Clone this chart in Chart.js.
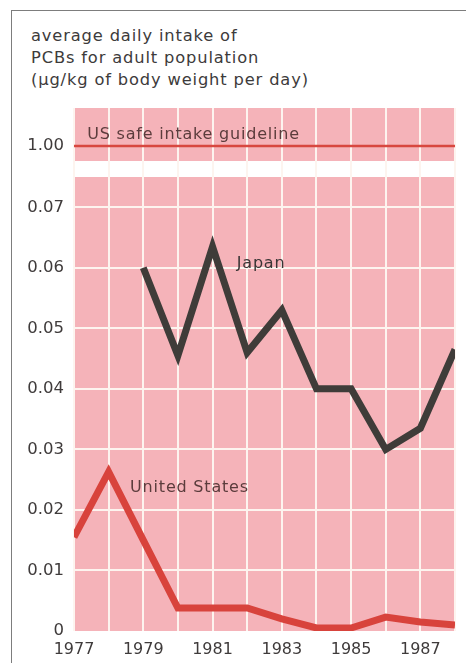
<!DOCTYPE html>
<html>
<head>
<meta charset="utf-8">
<script src="https://cdn.jsdelivr.net/npm/chart.js@4.4.1/dist/chart.umd.min.js"></script>
<style>
  html, body { margin: 0; padding: 0; background: #fff; overflow: hidden; }
  #page { position: relative; width: 466px; height: 663px; overflow: hidden; }
  #frame { position: absolute; left: 11px; top: 10px; width: 520px; height: 720px; border-left: 1.5px solid #7d7d7d; border-top: 1.5px solid #7d7d7d; }
  #title { position: absolute; left: 31px; top: 25px; font: 16.3px "DejaVu Sans"; letter-spacing: 0.85px; line-height: 22px; color: #3d3b3b; }
  #wrap { position: absolute; left: 0; top: 0; width: 466px; height: 663px; }
</style>
</head>
<body>
<div id="page">
<div id="frame"></div>
<div id="title">average daily intake of<br>PCBs for adult population<br>(µg/kg of body weight per day)</div>
<div id="wrap"><canvas id="pcbChart"></canvas></div>
</div>
<script>
const years = [1977, 1978, 1979, 1980, 1981, 1982, 1983, 1984, 1985, 1986, 1987, 1988];
const japan = [null, null, 0.060, 0.0455, 0.0635, 0.046, 0.053, 0.040, 0.040, 0.030, 0.0335, 0.0465];
const unitedStates = [0.0155, 0.0263, 0.015, 0.0038, 0.0038, 0.0038, 0.002, 0.0005, 0.0005, 0.0023, 0.0015, 0.001];
const guidelineValue = 1.00;
const mainTicks = [0, 0.01, 0.02, 0.03, 0.04, 0.05, 0.06, 0.07];
const topTicks = [1.00];
const yearLabels = [1977, 1979, 1981, 1983, 1985, 1987];

const PINK = '#f5b3b9';
const GRID = '#fdf4ef';
const TEXT = '#3f3b3b';

function points(values) {
    return years.map((yr, i) => ({ x: yr, y: values[i] })).filter(p => p.y !== null);
}

// pink panels behind the grid
const panels = {
    id: 'panels',
    beforeDraw(chart) {
        const { ctx, chartArea, scales } = chart;
        ctx.save();
        ctx.fillStyle = PINK;
        ctx.fillRect(chartArea.left, scales.y.top, chartArea.right - chartArea.left, scales.y.bottom - scales.y.top);
        const bandBottom = scales.yTop.getPixelForValue(0.985);
        ctx.fillRect(chartArea.left, scales.yTop.top, chartArea.right - chartArea.left, bandBottom - scales.yTop.top);
        ctx.restore();
    }
};

// series names written next to the lines
const seriesNames = {
    id: 'seriesNames',
    afterDatasetsDraw(chart) {
        const { ctx, scales } = chart;
        const notes = [
            { text: 'Japan', x: 1981.7, y: 0.0606, axis: 'y', color: '#3a3535' },
            { text: 'United States', x: 1978.62, y: 0.0237, axis: 'y', color: '#5b3c3c' },
            { text: 'US safe intake guideline', x: 1977.38, y: 1.011, axis: 'yTop', color: '#5b3c3c' }
        ];
        ctx.save();
        ctx.font = '16px "DejaVu Sans"';
        ctx.letterSpacing = '0.8px';
        ctx.textAlign = 'left';
        ctx.textBaseline = 'middle';
        notes.forEach(n => {
            ctx.fillStyle = n.color;
            ctx.fillText(n.text, scales.x.getPixelForValue(n.x), scales[n.axis].getPixelForValue(n.y));
        });
        ctx.restore();
    }
};

const ctx = document.getElementById('pcbChart').getContext('2d');

new Chart(ctx, {
    type: 'line',
    data: {
        datasets: [
            {
                label: 'US safe intake guideline',
                data: years.map(yr => ({ x: yr, y: guidelineValue })),
                yAxisID: 'yTop',
                borderColor: '#d8473f',
                borderWidth: 2.5,
                pointRadius: 0,
                clip: 0
            },
            {
                label: 'Japan',
                data: points(japan),
                yAxisID: 'y',
                borderColor: '#3f3c39',
                borderWidth: 7,
                borderJoinStyle: 'miter',
                pointRadius: 0,
                tension: 0,
                clip: 0
            },
            {
                label: 'United States',
                data: points(unitedStates),
                yAxisID: 'y',
                borderColor: '#d8433c',
                borderWidth: 7,
                borderJoinStyle: 'miter',
                pointRadius: 0,
                tension: 0,
                clip: 0
            }
        ]
    },
    options: {
        responsive: true,
        maintainAspectRatio: false,
        animation: false,
        layout: { padding: { top: 108, right: 11, left: 0, bottom: 0 } },
        plugins: {
            legend: { display: false },
            tooltip: { enabled: false }
        },
        scales: {
            x: {
                type: 'linear',
                min: 1977,
                max: 1988,
                afterBuildTicks: scale => { scale.ticks = years.map(v => ({ value: v })); },
                afterFit: scale => { scale.height = 32; },
                ticks: {
                    autoSkip: false,
                    maxRotation: 0,
                    padding: 9,
                    color: TEXT,
                    font: { family: 'DejaVu Sans', size: 16 },
                    callback: v => yearLabels.includes(v) ? String(v) : ''
                },
                grid: { color: GRID, lineWidth: 2, drawTicks: false },
                border: { display: false }
            },
            y: {
                type: 'linear',
                position: 'left',
                stack: 'panels',
                stackWeight: 454,
                weight: 1,
                min: 0,
                max: 0.075,
                afterBuildTicks: scale => { scale.ticks = mainTicks.map(v => ({ value: v })); },
                afterFit: scale => { scale.width = 74; },
                ticks: {
                    padding: 10,
                    color: TEXT,
                    font: { family: 'DejaVu Sans', size: 16.5 },
                    callback: v => v === 0 ? '0' : v.toFixed(2)
                },
                grid: {
                    color: c => c.tick && c.tick.value === 0 ? 'rgba(0,0,0,0)' : GRID,
                    lineWidth: 2,
                    drawTicks: false
                },
                border: { display: false }
            },
            yTop: {
                type: 'linear',
                position: 'left',
                stack: 'panels',
                stackWeight: 69,
                weight: 2,
                min: 0.969,
                max: 1.038,
                afterBuildTicks: scale => { scale.ticks = topTicks.map(v => ({ value: v })); },
                afterFit: scale => { scale.width = 74; },
                ticks: {
                    padding: 10,
                    color: TEXT,
                    font: { family: 'DejaVu Sans', size: 16.5 },
                    callback: v => v.toFixed(2)
                },
                grid: { display: false, drawTicks: false },
                border: { display: false }
            }
        }
    },
    plugins: [panels, seriesNames]
});
</script>
</body>
</html>
